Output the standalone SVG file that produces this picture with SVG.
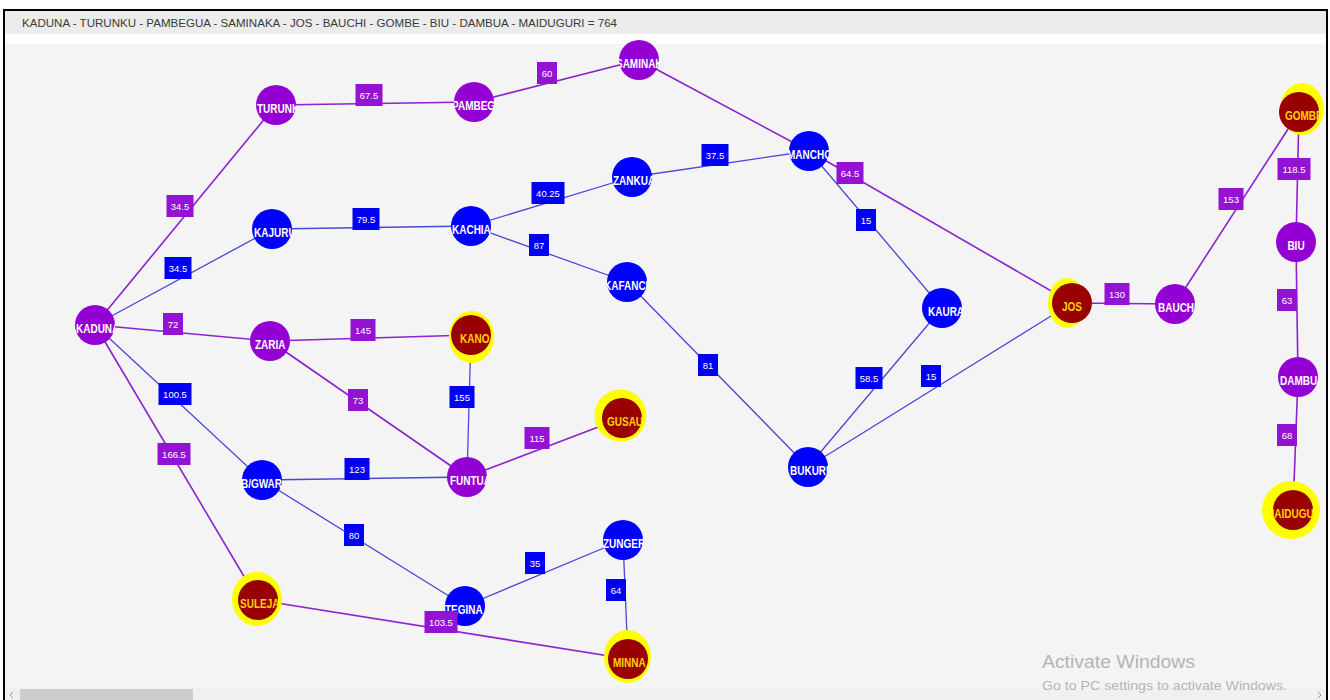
<svg xmlns="http://www.w3.org/2000/svg" width="1330" height="700" viewBox="0 0 1330 700">
  <style>
    .hdr { font-family: "Liberation Sans", Arial, sans-serif; font-size: 11px; fill: #3a3a3a; }
    .edge { fill: none; stroke-linecap: round; }
    .ep { stroke: #8c22d2; stroke-width: 1.6; }
    .eb { stroke: #4848d8; stroke-width: 1.3; }
    .lbl text { font-family: "Liberation Sans", Arial, sans-serif; font-size: 9.5px; fill: #ffffff; text-anchor: middle; }
    .bp rect { fill: #9412d2; }
    .bb rect { fill: #0000f2; }
    .node text { font-family: "Liberation Sans", Arial, sans-serif; font-size: 12.5px; font-weight: bold; fill: #ffffff; }
    .np > circle { fill: #9400d3; }
    .nb > circle { fill: #0000ff; }
    .nr > circle { fill: #990000; }
    .nr text { fill: #ffd200; }
    .halo { fill: #ffff00; }
    .wm { font-family: "Liberation Sans", Arial, sans-serif; fill: #b4b4b4; }
  </style>

  <!-- window chrome -->
  <rect x="0" y="0" width="1330" height="700" fill="#ffffff"/>
  <rect x="4" y="11" width="1322" height="23" fill="#ececec"/>
  <rect x="4" y="34" width="1322" height="10" fill="#fdfdfd"/>
  <rect x="4" y="44" width="1322" height="644" fill="#f4f4f4"/>
  <rect x="4" y="688" width="1322" height="12" fill="#f0f0f0"/>
  <rect x="20" y="689" width="173" height="11" fill="#cdcdcd"/>
  <polyline points="13,692 10,695 13,698" fill="none" stroke="#9a9a9a" stroke-width="1"/>
  <polyline points="1318,692 1321,695 1318,698" fill="none" stroke="#9a9a9a" stroke-width="1"/>
  <path d="M4,700 V10 H1327 V700" fill="none" stroke="#000000" stroke-width="2"/>
  <text class="hdr" x="22" y="27" textLength="595" lengthAdjust="spacingAndGlyphs">KADUNA - TURUNKU - PAMBEGUA - SAMINAKA - JOS - BAUCHI - GOMBE - BIU - DAMBUA - MAIDUGURI = 764</text>

  <!-- connectors -->
  <g id="connectors">
    <line class="edge ep" x1="95" y1="325" x2="276" y2="105"/>
    <line class="edge eb" x1="95" y1="325" x2="272" y2="229"/>
    <line class="edge ep" x1="95" y1="325" x2="270" y2="341"/>
    <line class="edge eb" x1="95" y1="325" x2="262" y2="480"/>
    <line class="edge ep" x1="95" y1="325" x2="258" y2="600"/>
    <line class="edge ep" x1="276" y1="105" x2="474" y2="102"/>
    <line class="edge ep" x1="474" y1="102" x2="639" y2="60"/>
    <line class="edge ep" x1="639" y1="60" x2="809" y2="151"/>
    <line class="edge ep" x1="809" y1="151" x2="1072" y2="303"/>
    <line class="edge eb" x1="809" y1="151" x2="942" y2="308"/>
    <line class="edge eb" x1="632" y1="177" x2="809" y2="151"/>
    <line class="edge eb" x1="471" y1="226" x2="632" y2="177"/>
    <line class="edge eb" x1="272" y1="229" x2="471" y2="226"/>
    <line class="edge eb" x1="471" y1="226" x2="627" y2="282"/>
    <line class="edge eb" x1="627" y1="282" x2="808" y2="467"/>
    <line class="edge eb" x1="942" y1="308" x2="808" y2="467"/>
    <line class="edge eb" x1="808" y1="467" x2="1072" y2="303"/>
    <line class="edge ep" x1="1072" y1="303" x2="1175" y2="304"/>
    <line class="edge ep" x1="1175" y1="304" x2="1299" y2="112"/>
    <line class="edge ep" x1="1299" y1="112" x2="1296" y2="242"/>
    <line class="edge ep" x1="1296" y1="242" x2="1298" y2="377"/>
    <line class="edge ep" x1="1298" y1="377" x2="1293" y2="510"/>
    <line class="edge ep" x1="270" y1="341" x2="471" y2="335"/>
    <line class="edge ep" x1="270" y1="341" x2="467" y2="477"/>
    <line class="edge eb" x1="471" y1="335" x2="467" y2="477"/>
    <line class="edge ep" x1="467" y1="477" x2="622" y2="418"/>
    <line class="edge eb" x1="262" y1="480" x2="467" y2="477"/>
    <line class="edge eb" x1="262" y1="480" x2="465" y2="606"/>
    <line class="edge eb" x1="465" y1="606" x2="623" y2="540"/>
    <line class="edge eb" x1="623" y1="540" x2="628" y2="659"/>
    <line class="edge ep" x1="258" y1="600" x2="628" y2="659"/>

    <!-- distance labels -->
    <g class="lbl bp" transform="translate(180,206)"><rect x="-13.5" y="-11" width="27" height="22"/><text y="3.5">34.5</text></g>
    <g class="lbl bb" transform="translate(178,268)"><rect x="-13.5" y="-11" width="27" height="22"/><text y="3.5">34.5</text></g>
    <g class="lbl bp" transform="translate(173,324)"><rect x="-10" y="-11" width="20" height="22"/><text y="3.5">72</text></g>
    <g class="lbl bb" transform="translate(175,394)"><rect x="-16.5" y="-11" width="33" height="22"/><text y="3.5">100.5</text></g>
    <g class="lbl bp" transform="translate(174,454)"><rect x="-16.5" y="-11" width="33" height="22"/><text y="3.5">166.5</text></g>
    <g class="lbl bp" transform="translate(369,95)"><rect x="-13.5" y="-11" width="27" height="22"/><text y="3.5">67.5</text></g>
    <g class="lbl bp" transform="translate(547,73)"><rect x="-10" y="-11" width="20" height="22"/><text y="3.5">60</text></g>
    <g class="lbl bb" transform="translate(366,219)"><rect x="-13.5" y="-11" width="27" height="22"/><text y="3.5">79.5</text></g>
    <g class="lbl bb" transform="translate(548,193)"><rect x="-16.5" y="-11" width="33" height="22"/><text y="3.5">40.25</text></g>
    <g class="lbl bb" transform="translate(539,245)"><rect x="-10" y="-11" width="20" height="22"/><text y="3.5">87</text></g>
    <g class="lbl bb" transform="translate(715,155)"><rect x="-13.5" y="-11" width="27" height="22"/><text y="3.5">37.5</text></g>
    <g class="lbl bp" transform="translate(850,173)"><rect x="-13.5" y="-11" width="27" height="22"/><text y="3.5">64.5</text></g>
    <g class="lbl bb" transform="translate(866,220)"><rect x="-10" y="-11" width="20" height="22"/><text y="3.5">15</text></g>
    <g class="lbl bp" transform="translate(363,330)"><rect x="-12.5" y="-11" width="25" height="22"/><text y="3.5">145</text></g>
    <g class="lbl bp" transform="translate(358,400)"><rect x="-10" y="-11" width="20" height="22"/><text y="3.5">73</text></g>
    <g class="lbl bb" transform="translate(462,397)"><rect x="-12.5" y="-11" width="25" height="22"/><text y="3.5">155</text></g>
    <g class="lbl bp" transform="translate(537,438)"><rect x="-12.5" y="-11" width="25" height="22"/><text y="3.5">115</text></g>
    <g class="lbl bb" transform="translate(357,469)"><rect x="-12.5" y="-11" width="25" height="22"/><text y="3.5">123</text></g>
    <g class="lbl bb" transform="translate(354,535)"><rect x="-10" y="-11" width="20" height="22"/><text y="3.5">80</text></g>
    <g class="lbl bb" transform="translate(535,563)"><rect x="-10" y="-11" width="20" height="22"/><text y="3.5">35</text></g>
    <g class="lbl bb" transform="translate(616,590)"><rect x="-10" y="-11" width="20" height="22"/><text y="3.5">64</text></g>
    <g class="lbl bb" transform="translate(708,365)"><rect x="-10" y="-11" width="20" height="22"/><text y="3.5">81</text></g>
    <g class="lbl bb" transform="translate(869,378)"><rect x="-13.5" y="-11" width="27" height="22"/><text y="3.5">58.5</text></g>
    <g class="lbl bb" transform="translate(931,376)"><rect x="-10" y="-11" width="20" height="22"/><text y="3.5">15</text></g>
    <g class="lbl bp" transform="translate(1117,294)"><rect x="-12.5" y="-11" width="25" height="22"/><text y="3.5">130</text></g>
    <g class="lbl bp" transform="translate(1231,199)"><rect x="-12.5" y="-11" width="25" height="22"/><text y="3.5">153</text></g>
    <g class="lbl bp" transform="translate(1294,169)"><rect x="-16.5" y="-11" width="33" height="22"/><text y="3.5">118.5</text></g>
    <g class="lbl bp" transform="translate(1287,300)"><rect x="-10" y="-11" width="20" height="22"/><text y="3.5">63</text></g>
    <g class="lbl bp" transform="translate(1287,435)"><rect x="-10" y="-11" width="20" height="22"/><text y="3.5">68</text></g>
  </g>

  <!-- towns: each label is clipped to its circle's box -->
  <g id="kaduna" class="node np" transform="translate(95,325)"><circle r="20"/><svg x="-20" y="-20" width="40" height="40" viewBox="-20 -20 40 40"><text x="-23.75" y="7.5" transform="scale(0.8,1)">KADUNA</text></svg></g>
  <g id="turunku" class="node np" transform="translate(276,105)"><circle r="20"/><svg x="-20" y="-20" width="40" height="40" viewBox="-20 -20 40 40"><text x="-23.75" y="7.5" transform="scale(0.8,1)">TURUNKU</text></svg></g>
  <g id="pambegua" class="node np" transform="translate(474,102)"><circle r="20"/><svg x="-20" y="-20" width="40" height="40" viewBox="-20 -20 40 40"><text x="-27.5" y="7.5" transform="scale(0.8,1)">PAMBEGUA</text></svg></g>
  <g id="saminaka" class="node np" transform="translate(639,60)"><circle r="20"/><svg x="-20" y="-20" width="40" height="40" viewBox="-20 -20 40 40"><text x="-28.75" y="7.5" transform="scale(0.8,1)">SAMINAKA</text></svg></g>
  <g id="manchok" class="node nb" transform="translate(809,151)"><circle r="20"/><svg x="-20" y="-20" width="40" height="40" viewBox="-20 -20 40 40"><text x="-27.5" y="7.5" transform="scale(0.8,1)">MANCHOK</text></svg></g>
  <g id="zankua" class="node nb" transform="translate(632,177)"><circle r="20"/><svg x="-20" y="-20" width="40" height="40" viewBox="-20 -20 40 40"><text x="-23.75" y="7.5" transform="scale(0.8,1)">ZANKUA</text></svg></g>
  <g id="kajuru" class="node nb" transform="translate(272,229)"><circle r="20"/><svg x="-20" y="-20" width="40" height="40" viewBox="-20 -20 40 40"><text x="-22.5" y="7.5" transform="scale(0.8,1)">KAJURU</text></svg></g>
  <g id="kachia" class="node nb" transform="translate(471,226)"><circle r="20"/><svg x="-20" y="-20" width="40" height="40" viewBox="-20 -20 40 40"><text x="-23.75" y="7.5" transform="scale(0.8,1)">KACHIA</text></svg></g>
  <g id="kafanchan" class="node nb" transform="translate(627,282)"><circle r="20"/><svg x="-20" y="-20" width="40" height="40" viewBox="-20 -20 40 40"><text x="-28.75" y="7.5" transform="scale(0.8,1)">KAFANCHAN</text></svg></g>
  <g id="kaura" class="node nb" transform="translate(942,308)"><circle r="20"/><svg x="-20" y="-20" width="40" height="40" viewBox="-20 -20 40 40"><text x="-17.5" y="7.5" transform="scale(0.8,1)">KAURA</text></svg></g>
  <g id="jos" class="node nr" transform="translate(1072,303)"><ellipse class="halo" cx="-5" cy="0" rx="19" ry="25"/><circle r="20"/><svg x="-20" y="-20" width="40" height="40" viewBox="-20 -20 40 40"><text x="0" y="7.5" text-anchor="middle" transform="scale(0.8,1)">JOS</text></svg></g>
  <g id="bauchi" class="node np" transform="translate(1175,304)"><circle r="20"/><svg x="-20" y="-20" width="40" height="40" viewBox="-20 -20 40 40"><text x="-21.25" y="7.5" transform="scale(0.8,1)">BAUCHI</text></svg></g>
  <g id="gombe" class="node nr" transform="translate(1299,112)"><ellipse class="halo" cx="3" cy="-3" rx="22" ry="26"/><circle r="20"/><svg x="-20" y="-20" width="40" height="40" viewBox="-20 -20 40 40"><text x="-17.5" y="7.5" transform="scale(0.8,1)">GOMBE</text></svg></g>
  <g id="biu" class="node np" transform="translate(1296,242)"><circle r="20"/><svg x="-20" y="-20" width="40" height="40" viewBox="-20 -20 40 40"><text x="0" y="7.5" text-anchor="middle" transform="scale(0.8,1)">BIU</text></svg></g>
  <g id="dambua" class="node np" transform="translate(1298,377)"><circle r="20"/><svg x="-20" y="-20" width="40" height="40" viewBox="-20 -20 40 40"><text x="-22.5" y="7.5" transform="scale(0.8,1)">DAMBUA</text></svg></g>
  <g id="maiduguri" class="node nr" transform="translate(1293,510)"><ellipse class="halo" cx="-2" cy="0" rx="29" ry="29"/><circle r="20"/><svg x="-20" y="-20" width="40" height="40" viewBox="-20 -20 40 40"><text x="-33.75" y="7.5" transform="scale(0.8,1)">MAIDUGURI</text></svg></g>
  <g id="zaria" class="node np" transform="translate(270,341)"><circle r="20"/><svg x="-20" y="-20" width="40" height="40" viewBox="-20 -20 40 40"><text x="-18.75" y="7.5" transform="scale(0.8,1)">ZARIA</text></svg></g>
  <g id="kano" class="node nr" transform="translate(471,335)"><ellipse class="halo" cx="0.5" cy="2" rx="22.5" ry="26"/><circle r="20"/><svg x="-20" y="-20" width="40" height="40" viewBox="-20 -20 40 40"><text x="-13.75" y="7.5" transform="scale(0.8,1)">KANO</text></svg></g>
  <g id="gusau" class="node nr" transform="translate(622,418)"><ellipse class="halo" cx="-1.5" cy="-2.5" rx="26" ry="26"/><circle r="20"/><svg x="-20" y="-20" width="40" height="40" viewBox="-20 -20 40 40"><text x="-18.75" y="7.5" transform="scale(0.8,1)">GUSAU</text></svg></g>
  <g id="funtua" class="node np" transform="translate(467,477)"><circle r="20"/><svg x="-20" y="-20" width="40" height="40" viewBox="-20 -20 40 40"><text x="-21.25" y="7.5" transform="scale(0.8,1)">FUNTUA</text></svg></g>
  <g id="bgwari" class="node nb" transform="translate(262,480)"><circle r="20"/><svg x="-20" y="-20" width="40" height="40" viewBox="-20 -20 40 40"><text x="-26.25" y="7.5" transform="scale(0.8,1)">B/GWARI</text></svg></g>
  <g id="bukuru" class="node nb" transform="translate(808,467)"><circle r="20"/><svg x="-20" y="-20" width="40" height="40" viewBox="-20 -20 40 40"><text x="-22.5" y="7.5" transform="scale(0.8,1)">BUKURU</text></svg></g>
  <g id="suleja" class="node nr" transform="translate(258,600)"><ellipse class="halo" cx="-1" cy="-1" rx="25" ry="27"/><circle r="20"/><svg x="-20" y="-20" width="40" height="40" viewBox="-20 -20 40 40"><text x="-22.5" y="7.5" transform="scale(0.8,1)">SULEJA</text></svg></g>
  <g id="tegina" class="node nb" transform="translate(465,606)"><circle r="20"/><svg x="-20" y="-20" width="40" height="40" viewBox="-20 -20 40 40"><text x="-25" y="7.5" transform="scale(0.8,1)">TEGINA</text></svg></g>
  <g id="zungeru" class="node nb" transform="translate(623,540)"><circle r="20"/><svg x="-20" y="-20" width="40" height="40" viewBox="-20 -20 40 40"><text x="-25" y="7.5" transform="scale(0.8,1)">ZUNGERU</text></svg></g>
  <g id="minna" class="node nr" transform="translate(628,659)"><ellipse class="halo" cx="-0.5" cy="-2.5" rx="23.5" ry="26.5"/><circle r="20"/><svg x="-20" y="-20" width="40" height="40" viewBox="-20 -20 40 40"><text x="-18.75" y="7.5" transform="scale(0.8,1)">MINNA</text></svg></g>

  <!-- the 103.5 label sits over the Tegina circle -->
  <g class="lbl bp" transform="translate(441,622)"><rect x="-16.5" y="-11" width="33" height="22"/><text y="3.5">103.5</text></g>

  <!-- activation watermark -->
  <text class="wm" x="1042" y="668" font-size="17.5" textLength="153" lengthAdjust="spacingAndGlyphs">Activate Windows</text>
  <text class="wm" x="1042" y="690" font-size="13" textLength="245" lengthAdjust="spacingAndGlyphs">Go to PC settings to activate Windows.</text>
</svg>
